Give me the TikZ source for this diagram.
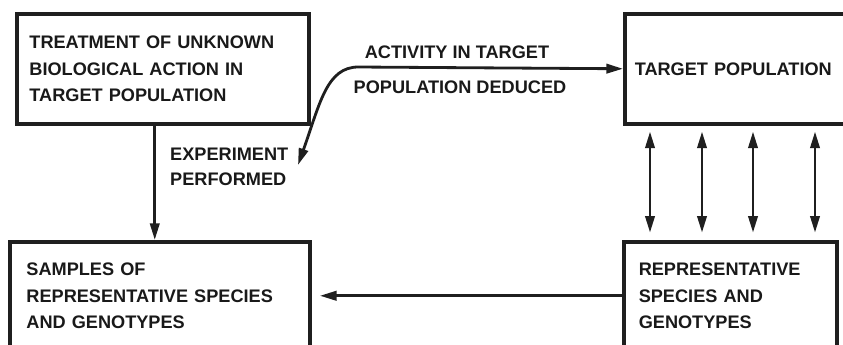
\documentclass[tikz,border=0pt]{standalone}
\usepackage{fontspec}
\setmainfont{Liberation Sans}
\usetikzlibrary{arrows.meta,positioning,calc}

\begin{document}
\begin{tikzpicture}[
    font=\bfseries\fontsize{15.5}{23}\selectfont,
    every node/.style={text=black!90},
    box/.style={draw=black!88, line width=3pt, anchor=north west, align=left, inner xsep=0.38cm, inner ysep=0pt},
    flow/.style={draw=black!88, line width=2.4pt, -{Triangle[length=5mm,width=2.8mm]}},
    link/.style={draw=black!88, line width=2.4pt, {Triangle[length=5mm,width=2.8mm]}-{Triangle[length=5mm,width=2.8mm]}},
    labelnode/.style={align=left, inner sep=0pt}
]
\useasboundingbox (0,0) rectangle (25.29,-10.32);

% Boxes
\node[box, text width=8.0cm, minimum width=8.76cm, minimum height=3.3cm] (treat) at (0.45,-0.36) {TREATMENT OF UNKNOWN\\BIOLOGICAL ACTION IN\\TARGET POPULATION};
\node[box, text width=6.4cm, minimum width=6.8cm, minimum height=3.3cm, inner xsep=0.3cm] (target) at (18.69,-0.36) {TARGET POPULATION};
\node[box, text width=8.0cm, minimum width=8.85cm, minimum height=3.24cm, inner xsep=0.5cm] (samples) at (0.24,-7.2) {SAMPLES OF\\REPRESENTATIVE SPECIES\\AND GENOTYPES};
\node[box, text width=5.5cm, minimum width=6.4cm, minimum height=3.24cm, inner xsep=0.42cm] (repr) at (18.66,-7.2) {REPRESENTATIVE\\SPECIES AND\\GENOTYPES};

% Labels
\node[labelnode] (activity) at (13.71,-1.56) {ACTIVITY IN TARGET};
\node[labelnode] (deduced) at (13.8,-2.61) {POPULATION DEDUCED};
\node[labelnode, anchor=north west, font=\bfseries\fontsize{15.5}{22}\selectfont] (expt) at (5.1,-4.42) {EXPERIMENT\\PERFORMED};

% Curved connector
\coordinate (bend) at (10.75,-2.01);
\coordinate (exptend) at (8.94,-4.95);
\draw[link] (exptend) .. controls (9.6,-3.1) and (9.8,-2.01) .. (bend) -- (target.west);

% Experiment to samples
\draw[flow] ([xshift=-0.24cm]treat.south) -- ([xshift=-0.24cm]treat.south |- samples.north);

% Exchange between population and representatives
\foreach \dx in {0.81,2.37,3.9,5.76}
  \draw[link, shorten <=0.18cm, shorten >=0.22cm] ([xshift=\dx cm]target.south west) -- ([xshift=\dx cm]target.south west |- repr.north);

% Sampling
\draw[flow, shorten >=0.25cm] (repr.west) -- (repr.west -| samples.east);

\end{tikzpicture}
\end{document}
